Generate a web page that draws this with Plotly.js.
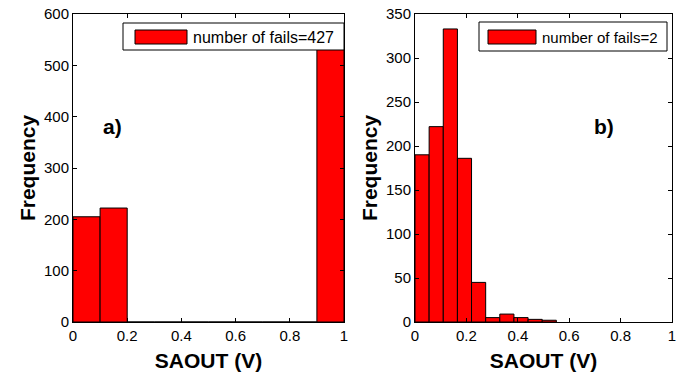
<!DOCTYPE html>
<html><head><meta charset="utf-8">
<script src="https://cdn.plot.ly/plotly-3.0.1.min.js"></script>
<style>html,body{margin:0;padding:0;background:#fff}#chart{width:689px;height:376px}</style>
</head><body><div id="chart"></div>
<script>
// Panel a) histogram (10 bins over 0..1)
const binCentersA = [0.05, 0.15, 0.25, 0.35, 0.45, 0.55, 0.65, 0.75, 0.85, 0.95];
const countsA = [205, 222, 0, 0, 0, 0, 0, 0, 0, 573];
const binWidthA = 0.1;
const legendA = "number of fails=427";

// Panel b) histogram (10 bins over 0..0.55)
const binWidthB = 0.055;
const binCentersB = [0.0275, 0.0825, 0.1375, 0.1925, 0.2475, 0.3025, 0.3575, 0.4125, 0.4675, 0.5225];
const countsB = [190, 222, 333, 186, 45, 5, 9, 5, 3, 2];
const legendB = "number of fails=2";

const xTicks = [0, 0.2, 0.4, 0.6, 0.8, 1];
const xTickText = ["0", "0.2", "0.4", "0.6", "0.8", "1"];
const yTicksA = [0, 100, 200, 300, 400, 500, 600];
const yTicksB = [0, 50, 100, 150, 200, 250, 300, 350];

const W = 689, H = 376;
const px = v => v / W, py = v => 1 - v / H;

const barStyle = {color: '#ff0000', line: {color: '#000', width: 1}};
const traces = [
  {type: 'bar', x: binCentersA, y: countsA, width: binWidthA, marker: barStyle, xaxis: 'x', yaxis: 'y', showlegend: false},
  {type: 'bar', x: binCentersB, y: countsB, width: binWidthB, marker: barStyle, xaxis: 'x2', yaxis: 'y2', showlegend: false}
];

const font = 'Liberation Sans, Arial, sans-serif';
const axCommon = {
  showgrid: false, zeroline: false, showline: true, linecolor: '#000', linewidth: 1,
  mirror: 'ticks', ticks: 'inside', ticklen: 4, tickcolor: '#000',
  tickfont: {family: font, size: 15, color: '#000'}
};
const xTitle = {text: 'SAOUT (V)', font: {family: font, size: 21, color: '#000', weight: 'bold'}, standoff: 10};
const yTitle = {text: 'Frequency', font: {family: font, size: 21, color: '#000', weight: 'bold'}, standoff: 2};

const layout = {
  width: W, height: H, margin: {l: 0, r: 0, t: 0, b: 0},
  paper_bgcolor: '#fff', plot_bgcolor: '#fff', showlegend: false, bargap: 0,
  xaxis: Object.assign({}, axCommon, {domain: [px(73), px(344)], range: [0, 1], tickvals: xTicks, ticktext: xTickText, anchor: 'y', title: xTitle, automargin: false}),
  yaxis: Object.assign({}, axCommon, {domain: [py(322), py(14)], range: [0, 600], tickvals: yTicksA, anchor: 'x', title: yTitle, automargin: false}),
  xaxis2: Object.assign({}, axCommon, {domain: [px(415), px(672)], range: [0, 1], tickvals: xTicks, ticktext: xTickText, anchor: 'y2', title: xTitle, automargin: false}),
  yaxis2: Object.assign({}, axCommon, {domain: [py(322), py(14)], range: [0, 350], tickvals: yTicksB, anchor: 'x2', title: yTitle, automargin: false}),
  shapes: [
    // legend a)
    {type: 'rect', xref: 'paper', yref: 'paper', x0: px(123), x1: px(344), y0: py(50), y1: py(23), line: {color: '#000', width: 1}, fillcolor: '#fff', layer: 'above'},
    {type: 'rect', xref: 'paper', yref: 'paper', x0: px(135), x1: px(187), y0: py(44), y1: py(30), line: {color: '#000', width: 1}, fillcolor: '#ff0000', layer: 'above'},
    // legend b)
    {type: 'rect', xref: 'paper', yref: 'paper', x0: px(479), x1: px(667), y0: py(51), y1: py(22), line: {color: '#000', width: 1}, fillcolor: '#fff', layer: 'above'},
    {type: 'rect', xref: 'paper', yref: 'paper', x0: px(488), x1: px(536), y0: py(44), y1: py(30), line: {color: '#000', width: 1}, fillcolor: '#ff0000', layer: 'above'}
  ],
  annotations: [
    {xref: 'paper', yref: 'paper', x: px(191), y: py(37), xanchor: 'left', yanchor: 'middle', text: legendA, showarrow: false, font: {family: font, size: 16, color: '#000'}},
    {xref: 'paper', yref: 'paper', x: px(540), y: py(37), xanchor: 'left', yanchor: 'middle', text: legendB, showarrow: false, font: {family: font, size: 15, color: '#000'}},
    {xref: 'paper', yref: 'paper', x: px(112), y: py(126), xanchor: 'center', yanchor: 'middle', text: 'a)', showarrow: false, font: {family: font, size: 21, color: '#000', weight: 'bold'}},
    {xref: 'paper', yref: 'paper', x: px(604), y: py(127), xanchor: 'center', yanchor: 'middle', text: 'b)', showarrow: false, font: {family: font, size: 21, color: '#000', weight: 'bold'}}
  ]
};

Plotly.newPlot('chart', traces, layout, {displayModeBar: false, staticPlot: true});
</script></body></html>
